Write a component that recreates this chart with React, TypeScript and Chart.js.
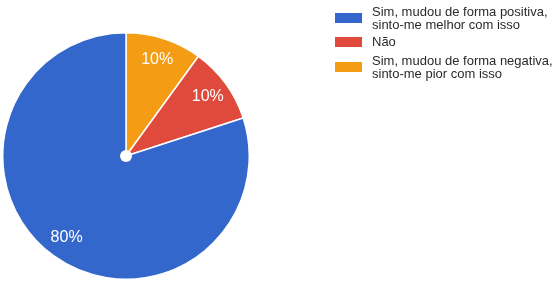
import React, { useEffect, useRef } from "react";
import { Chart, registerables } from "chart.js";

Chart.register(...registerables);

// Legend order (top to bottom)
const categories: string[][] = [
  ["Sim, mudou de forma positiva,", "sinto-me melhor com isso"],
  ["Não"],
  ["Sim, mudou de forma negativa,", "sinto-me pior com isso"],
];
const values: number[] = [80, 10, 10];
const colors: string[] = ["#3467CC", "#DF4A3C", "#F39C14"];

// slices are drawn clockwise from the top in reverse legend order
const drawOrder = [2, 1, 0];

export default function App() {
  const ref = useRef<HTMLCanvasElement | null>(null);

  useEffect(() => {
    document.body.style.margin = "0";
    const total = values.reduce((a, b) => a + b, 0);
    const labelPlugin = {
      id: "pieLabels",
      afterDatasetsDraw(chart: any) {
        const ctx = chart.ctx;
        const meta = chart.getDatasetMeta(0);
        ctx.save();
        meta.data.forEach((arc: any, i: number) => {
          const { x, y, startAngle, endAngle, outerRadius } = arc.getProps(
            ["x", "y", "startAngle", "endAngle", "outerRadius"],
            true
          );
          const mid = (startAngle + endAngle) / 2;
          const r = outerRadius * 0.82;
          const v = chart.data.datasets[0].data[i];
          ctx.fillStyle = "#ffffff";
          ctx.font = "16px 'Liberation Sans', Arial, sans-serif";
          ctx.textAlign = "center";
          ctx.textBaseline = "middle";
          ctx.fillText(
            Math.round((v / total) * 100) + "%",
            x + Math.cos(mid) * r,
            y + Math.sin(mid) * r
          );
        });
        const a0 = meta.data[0];
        ctx.beginPath();
        ctx.fillStyle = "#ffffff";
        ctx.arc(a0.x, a0.y, 6, 0, Math.PI * 2);
        ctx.fill();
        ctx.restore();
      },
    };
    const chart = new Chart(ref.current!, {
      type: "pie",
      data: {
        labels: drawOrder.map((i) => categories[i].join(" ")),
        datasets: [
          {
            data: drawOrder.map((i) => values[i]),
            backgroundColor: drawOrder.map((i) => colors[i]),
            borderColor: "#ffffff",
            borderWidth: 1.5,
          },
        ],
      },
      options: {
        responsive: false,
        animation: false,
        layout: { padding: { left: 2, top: 32, right: 305, bottom: 4 } },
        plugins: {
          legend: { display: false },
          tooltip: { enabled: false },
        },
      },
      plugins: [labelPlugin],
    });
    return () => chart.destroy();
  }, []);

  const legendTops = [5, 35, 54];
  return (
    <div
      style={{
        position: "fixed",
        left: 0,
        top: 0,
        width: 555,
        height: 284,
        background: "#ffffff",
      }}
    >
      <canvas ref={ref} width={555} height={284} />
      {categories.map((lines, i) => (
        <div
          key={i}
          style={{
            position: "absolute",
            left: 335,
            top: legendTops[i],
            display: "flex",
            alignItems: "center",
            fontFamily: "'Liberation Sans', Arial, sans-serif",
            fontSize: 13,
            lineHeight: "13px",
            color: "#2a2a2a",
          }}
        >
          <div
            style={{
              width: 27,
              height: 10,
              background: colors[i],
              marginRight: 10,
              flexShrink: 0,
            }}
          />
          <div>
            {lines.map((l, j) => (
              <div key={j}>{l}</div>
            ))}
          </div>
        </div>
      ))}
    </div>
  );
}
